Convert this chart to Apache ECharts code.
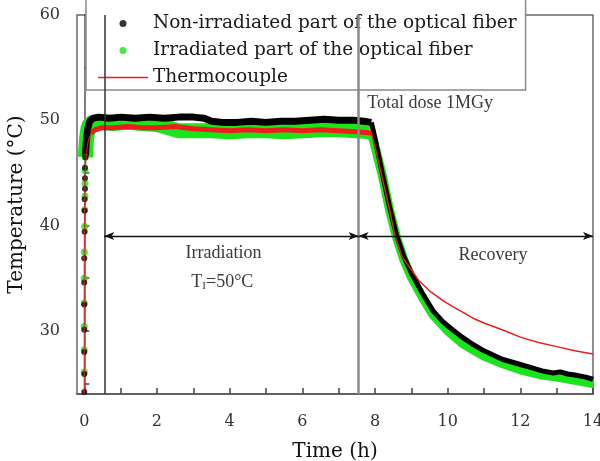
<!DOCTYPE html>
<html>
<head>
<meta charset="utf-8">
<script src="https://cdn.jsdelivr.net/npm/echarts@6/dist/echarts.min.js"></script>
<style>html,body{margin:0;padding:0;background:#fff}#c{width:600px;height:461px}</style>
</head>
<body>
<div id="c"></div>
<script>
// ---------- Data ----------
const NAME_NON = 'Non-irradiated part of the optical fiber';
const NAME_IRR = 'Irradiated part of the optical fiber';
const NAME_TC = 'Thermocouple';

// heating-up points (discrete dots)
const nonRiseT = [0.0, 0.0, 0.0, 0.0, 0.0, 0.0, 0.0, 0.01, 0.01, 0.01, 0.02, 0.02, 0.02, 0.03];
const nonRiseY = [24.2, 25.9, 28.0, 30.1, 32.5, 34.6, 36.9, 39.4, 41.4, 42.5, 43.5, 44.5, 45.5, 46.5];
const irrRiseT = [0.0, 0.0, 0.0, 0.0, 0.0, 0.0, 0.01, 0.01, 0.02, 0.02, 0.02, 0.03];
const irrRiseY = [26.1, 28.2, 30.4, 32.65, 35.0, 37.5, 39.9, 41.5, 42.8, 44.0, 45.2, 46.5];

// non-irradiated part: plateau and recovery
const nonPlatT = [0.03, 0.06, 0.1, 0.15, 0.25, 0.4, 0.7, 1.0, 1.4, 1.8, 2.2, 2.6, 3.0, 3.3, 3.5, 3.8, 4.2, 4.6, 5.0, 5.4, 5.8, 6.2, 6.6, 7.0, 7.4, 7.7, 7.9];
const nonPlatY = [46.5, 48.2, 49.3, 49.9, 50.2, 50.3, 50.2, 50.3, 50.2, 50.3, 50.2, 50.3, 50.3, 50.2, 49.9, 49.8, 49.8, 49.9, 49.8, 49.9, 49.9, 50.0, 50.1, 50.0, 50.0, 49.9, 49.8];
const nonRecT = [7.9, 8.0, 8.2, 8.4, 8.6, 8.8, 9.0, 9.3, 9.6, 9.86, 10.1, 10.4, 10.7, 11.0, 11.5, 12.0, 12.3, 12.6, 12.9, 13.1, 13.3, 13.5, 13.8, 14.0];
const nonRecY = [49.8, 48.3, 45.0, 41.8, 39.0, 37.0, 35.5, 33.6, 31.9, 30.9, 30.2, 29.4, 28.7, 28.1, 27.3, 26.8, 26.5, 26.2, 26.0, 26.1, 25.9, 25.8, 25.6, 25.4];

// irradiated part: plateau and recovery
const irrPlatT = [0.03, 0.06, 0.1, 0.15, 0.25, 0.4, 0.8, 1.2, 1.6, 2.0, 2.3, 2.6, 3.0, 3.5, 4.0, 4.5, 5.0, 5.5, 6.0, 6.5, 7.0, 7.5, 7.85];
const irrPlatY = [46.5, 48.2, 49.2, 49.7, 49.8, 49.8, 49.7, 49.8, 49.7, 49.6, 49.3, 49.0, 49.0, 49.0, 48.9, 49.0, 49.0, 48.9, 49.0, 49.1, 49.1, 49.0, 48.9];
const irrRecT = [7.85, 7.95, 8.2, 8.4, 8.6, 8.8, 9.0, 9.3, 9.6, 10.0, 10.4, 10.7, 11.0, 11.5, 12.0, 12.6, 13.0, 13.5, 14.0];
const irrRecY = [48.9, 48.2, 44.8, 41.5, 38.8, 36.7, 35.1, 33.2, 31.5, 30.0, 28.8, 28.2, 27.6, 26.9, 26.3, 25.8, 25.6, 25.3, 25.0];

// thermocouple
const tcRiseT = [0.0, 0.0, 0.01, 0.02, 0.04, 0.07, 0.12, 0.2];
const tcRiseY = [24.0, 35.0, 42.0, 44.5, 46.0, 47.2, 48.2, 48.8];
const tcPlatT = [0.2, 0.3, 0.5, 0.8, 1.2, 1.6, 2.0, 2.5, 3.0, 3.5, 4.0, 4.5, 5.0, 5.5, 6.0, 6.5, 7.0, 7.5, 7.9];
const tcPlatY = [48.8, 49.1, 49.3, 49.3, 49.4, 49.3, 49.3, 49.4, 49.2, 49.1, 49.0, 49.1, 49.0, 49.1, 49.0, 49.1, 49.0, 48.9, 48.8];
const tcRecT = [7.9, 8.0, 8.2, 8.4, 8.55, 8.75, 9.0, 9.2, 9.5, 9.86, 10.14, 10.4, 10.7, 11.0, 11.5, 12.0, 12.5, 13.0, 13.5, 14.0];
const tcRecY = [48.8, 47.5, 44.5, 41.5, 39.0, 37.0, 35.8, 34.8, 33.8, 32.9, 32.3, 31.8, 31.2, 30.75, 30.1, 29.4, 28.9, 28.5, 28.1, 27.8];

// axes
const xLabelValues = [0, 2, 4, 6, 8, 10, 12, 14];
const xTickValues = [0, 1, 2, 3, 4, 5, 6, 7, 8, 9, 10, 11, 12, 13, 14];
const yLabelValues = [30, 40, 50, 60];
const yTickValues = [25, 30, 35, 40, 45, 50, 55, 60];

// annotations
const irrStart = 0.55, irrEnd = 7.55, arrowLevel = 39;
const annIrr = [3.83, 37.4], annT = [3.8, 34.65], annRec = [11.25, 37.2], annDose = [9.52, 51.6];

// ---------- Chart ----------
const zip = (t, y) => t.map((v, i) => [v, y[i]]);
const BLACK = '#000000', GREEN = '#1be41b', RED = '#ee1c1c';
const SERIF = '"DejaVu Serif", serif';
const TSERIF = '"Liberation Serif", serif';

const chart = echarts.init(document.getElementById('c'), null, {renderer: 'canvas'});
const lineBase = {type: 'line', symbol: 'none', showSymbol: false, silent: true, animation: false};
const annLabel = {fontFamily: TSERIF, fontSize: 18, color: '#3a3a3a'};

chart.setOption({
  animation: false,
  grid: {left: 77, right: 7, top: 15, bottom: 67, show: true, borderColor: '#6a6a6a', borderWidth: 1.5, outerBoundsMode: 'none', containLabel: false},
  legend: {
    left: 86, top: -3, orient: 'vertical',
    padding: [17, 9, 3, 12], itemGap: 8,
    itemWidth: 50, itemHeight: 7,
    backgroundColor: '#ffffff', borderColor: '#8a8a8a', borderWidth: 1.5, borderRadius: 0,
    textStyle: {fontFamily: SERIF, fontSize: 18.5, color: '#1a1a1a'},
    selectedMode: false,
    data: [
      {name: NAME_NON, icon: 'circle'},
      {name: NAME_IRR, icon: 'circle'},
      {name: NAME_TC, icon: 'path://M0,0L50,0L50,1.4L0,1.4Z'}
    ]
  },
  xAxis: {
    type: 'value', min: -0.2, max: 14,
    axisLine: {show: true, lineStyle: {color: '#555', width: 1.5}},
    axisTick: {show: true, inside: true, length: 6, customValues: xTickValues, lineStyle: {color: '#444', width: 1.5}},
    axisLabel: {customValues: xLabelValues, margin: 20, fontFamily: SERIF, fontSize: 16, color: '#333'},
    splitLine: {show: false},
    name: 'Time (h)', nameLocation: 'middle', nameGap: 48,
    nameTextStyle: {fontFamily: SERIF, fontSize: 20, color: '#111'}
  },
  yAxis: {
    type: 'value', min: 24, max: 60,
    axisLine: {show: true, lineStyle: {color: '#555', width: 1.5}},
    axisTick: {show: true, inside: true, length: 5, customValues: yTickValues, lineStyle: {color: '#444', width: 1.5}},
    axisLabel: {customValues: yLabelValues, margin: 17, fontFamily: SERIF, fontSize: 16, color: '#333'},
    splitLine: {show: false},
    name: 'Temperature (°C)', nameLocation: 'middle', nameGap: 50,
    nameTextStyle: {fontFamily: SERIF, fontSize: 20, color: '#111'}
  },
  series: [
    Object.assign({}, lineBase, {name: NAME_TC, data: zip(tcRiseT, tcRiseY), z: 5, lineStyle: {color: RED, width: 1.3, opacity: 0.8}, itemStyle: {color: RED}}),
    {type: 'scatter', name: NAME_IRR, data: zip(irrRiseT, irrRiseY), symbolSize: 7, itemStyle: {color: GREEN}, z: 3, silent: true},
    Object.assign({}, lineBase, {name: NAME_IRR, data: zip(irrPlatT, irrPlatY), z: 2, lineStyle: {color: GREEN, width: 15}, itemStyle: {color: GREEN}}),
    Object.assign({}, lineBase, {name: NAME_IRR, data: zip(irrRecT, irrRecY), z: 2, lineStyle: {color: GREEN, width: 9}, itemStyle: {color: GREEN}}),
    {type: 'scatter', name: NAME_NON, data: zip(nonRiseT, nonRiseY), symbolSize: 6, itemStyle: {color: BLACK}, z: 4, silent: true},
    Object.assign({}, lineBase, {name: NAME_NON, data: zip(nonPlatT, nonPlatY), z: 2, lineStyle: {color: BLACK, width: 7}, itemStyle: {color: BLACK}}),
    Object.assign({}, lineBase, {name: NAME_NON, data: zip(nonRecT, nonRecY), z: 2, lineStyle: {color: BLACK, width: 5}, itemStyle: {color: BLACK}}),
    Object.assign({}, lineBase, {name: NAME_TC, data: zip(tcPlatT, tcPlatY), z: 3, lineStyle: {color: RED, width: 5}, itemStyle: {color: RED}}),
    Object.assign({}, lineBase, {name: NAME_TC, data: zip(tcRecT, tcRecY), z: 3, lineStyle: {color: RED, width: 1.5}, itemStyle: {color: RED}}),
    Object.assign({}, lineBase, {
      name: 'annotations', data: [], z: 6,
      markLine: {
        silent: true, animation: false, symbol: 'none',
        label: {show: false},
        data: [
          [{coord: [irrStart, 24], lineStyle: {color: '#333', width: 1.5, type: 'solid'}}, {coord: [irrStart, 60]}],
          [{coord: [irrEnd, 24], lineStyle: {color: '#8a8a8a', width: 2.5, type: 'solid'}}, {coord: [irrEnd, 60]}],
          [{coord: [irrStart, arrowLevel], symbol: 'arrow', symbolSize: [6, 10], lineStyle: {color: '#111', width: 1.3, type: 'solid'}}, {coord: [irrEnd, arrowLevel], symbol: 'arrow', symbolSize: [6, 10]}],
          [{coord: [irrEnd, arrowLevel], symbol: 'arrow', symbolSize: [6, 10], lineStyle: {color: '#111', width: 1.3, type: 'solid'}}, {coord: [14, arrowLevel], symbol: 'arrow', symbolSize: [6, 10]}]
        ]
      },
      markPoint: {
        silent: true, animation: false, symbol: 'circle', symbolSize: 0,
        label: Object.assign({show: true, position: 'inside'}, annLabel),
        data: [
          {coord: annIrr, label: {formatter: 'Irradiation'}},
          {coord: annT, label: {formatter: 'T{s|I}=50°C', rich: {s: {fontFamily: TSERIF, fontSize: 11, color: '#3a3a3a', padding: [9, 0, 0, 0]}}}},
          {coord: annRec, label: {formatter: 'Recovery'}},
          {coord: annDose, label: {formatter: 'Total dose 1MGy'}}
        ]
      }
    })
  ]
});
</script>
</body>
</html>
